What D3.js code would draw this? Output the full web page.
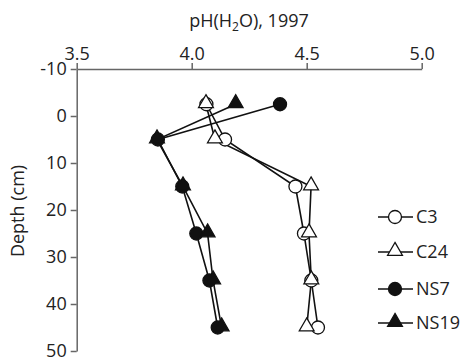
<!DOCTYPE html>
<html>
<head>
<meta charset="utf-8">
<script src="https://cdn.jsdelivr.net/npm/d3@7"></script>
<style>
  body { margin: 0; background: #fff; }
  text { font-family: "Open Sans", sans-serif; fill: #222; }
</style>
</head>
<body>
<svg id="chart" width="463" height="362"></svg>
<script>
// data
const depths = [-2.5, 5, 15, 25, 35, 45]
const seriesNames = ['C3', 'C24', 'NS7', 'NS19']
const c3 = [4.064, 4.145, 4.451, 4.488, 4.52, 4.549]
const c24 = [4.062, 4.101, 4.519, 4.51, 4.52, 4.5]
const ns7 = [4.384, 3.853, 3.959, 4.02, 4.077, 4.113]
const ns19 = [4.191, 3.849, 3.962, 4.069, 4.093, 4.13]
const xTicks = [3.5, 4.0, 4.5, 5.0]
const yTicks = [-10, 0, 10, 20, 30, 40, 50]

const series = [
  { name: 'C3', values: c3, shape: 'circle', filled: false },
  { name: 'C24', values: c24, shape: 'triangle', filled: false },
  { name: 'NS7', values: ns7, shape: 'circle', filled: true },
  { name: 'NS19', values: ns19, shape: 'triangle', filled: true },
]

const width = 463
const height = 362
const margin = { top: 69, right: 41.3, bottom: 11, left: 76.7 }
const fontSize = 18

const svg = d3.select('#chart')

const x = d3.scaleLinear([3.5, 5.0], [margin.left, width - margin.right])
const y = d3.scaleLinear([-10, 50], [margin.top, height - margin.bottom])

const axisColor = '#666'

// top axis
const xAxis = svg
  .append('g')
  .attr('transform', `translate(0,${margin.top})`)
  .call(
    d3.axisTop(x).tickValues(xTicks).tickFormat(d3.format('.1f'))
      .tickSize(6).tickSizeOuter(0).tickPadding(3)
  )
xAxis.attr('font-size', null).attr('font-family', null)
xAxis.select('.domain').attr('stroke', axisColor).attr('stroke-width', 1.5)
xAxis.selectAll('.tick line').attr('stroke', axisColor).attr('stroke-width', 1.5)
xAxis.selectAll('.tick text').attr('font-size', fontSize).attr('fill', '#222')

// left axis (plain hyphen for negative labels, as in the original)
const yAxis = svg
  .append('g')
  .attr('transform', `translate(${margin.left},0)`)
  .call(
    d3.axisLeft(y).tickValues(yTicks).tickFormat((d) => String(d))
      .tickSize(6).tickSizeOuter(0).tickPadding(4)
  )
yAxis.attr('font-size', null).attr('font-family', null)
yAxis.select('.domain').attr('stroke', axisColor).attr('stroke-width', 1.5)
yAxis.selectAll('.tick line').attr('stroke', axisColor).attr('stroke-width', 1.5)
yAxis.selectAll('.tick text').attr('font-size', fontSize).attr('fill', '#222')

// titles
const title = svg
  .append('text')
  .attr('x', 249)
  .attr('y', 27)
  .attr('text-anchor', 'middle')
  .attr('font-size', fontSize)
title.append('tspan').text('pH(H')
title.append('tspan').attr('font-size', 12).attr('dy', 4).text('2')
title.append('tspan').attr('dy', -4).text('O), 1997')

svg
  .append('text')
  .attr('transform', `translate(24,211) rotate(-90)`)
  .attr('text-anchor', 'middle')
  .attr('font-size', fontSize)
  .text('Depth (cm)')

// markers
const triangle = d3.symbol(d3.symbolTriangle, 95)
function drawMarker(g, s) {
  if (s.shape === 'circle') {
    g.append('circle')
      .attr('r', 6.5)
      .attr('fill', s.filled ? '#111' : '#fff')
      .attr('stroke', '#111')
      .attr('stroke-width', 1.3)
  } else {
    g.append('path')
      .attr('d', triangle())
      .attr('transform', 'translate(0,-1)')
      .attr('fill', s.filled ? '#111' : '#fff')
      .attr('stroke', '#111')
      .attr('stroke-width', 1.3)
  }
}

const line = d3
  .line()
  .x((d) => x(d.v))
  .y((d) => y(d.depth))

const plot = svg.append('g').attr('id', 'viz')

series.forEach((s) => {
  const pts = s.values.map((v, i) => ({ v, depth: depths[i] }))
  plot
    .append('path')
    .datum(pts)
    .attr('d', line)
    .attr('fill', 'none')
    .attr('stroke', '#111')
    .attr('stroke-width', 1.6)
})

series.forEach((s) => {
  const pts = s.values.map((v, i) => ({ v, depth: depths[i] }))
  plot
    .append('g')
    .selectAll('g')
    .data(pts)
    .join('g')
    .attr('transform', (d) => `translate(${x(d.v)},${y(d.depth)})`)
    .each(function () {
      drawMarker(d3.select(this), s)
    })
})

// legend
const legend = svg.append('g').attr('id', 'legend')
const legendY = [217, 252, 289, 323]
series.forEach((s, i) => {
  const g = legend.append('g').attr('transform', `translate(395,${legendY[i]})`)
  g.append('line')
    .attr('x1', -17)
    .attr('x2', 18)
    .attr('stroke', '#111')
    .attr('stroke-width', 1.6)
  drawMarker(g, s)
  g.append('text')
    .attr('x', 21)
    .attr('dy', '0.36em')
    .attr('font-size', fontSize)
    .text(seriesNames[i])
})
</script>
</body>
</html>
